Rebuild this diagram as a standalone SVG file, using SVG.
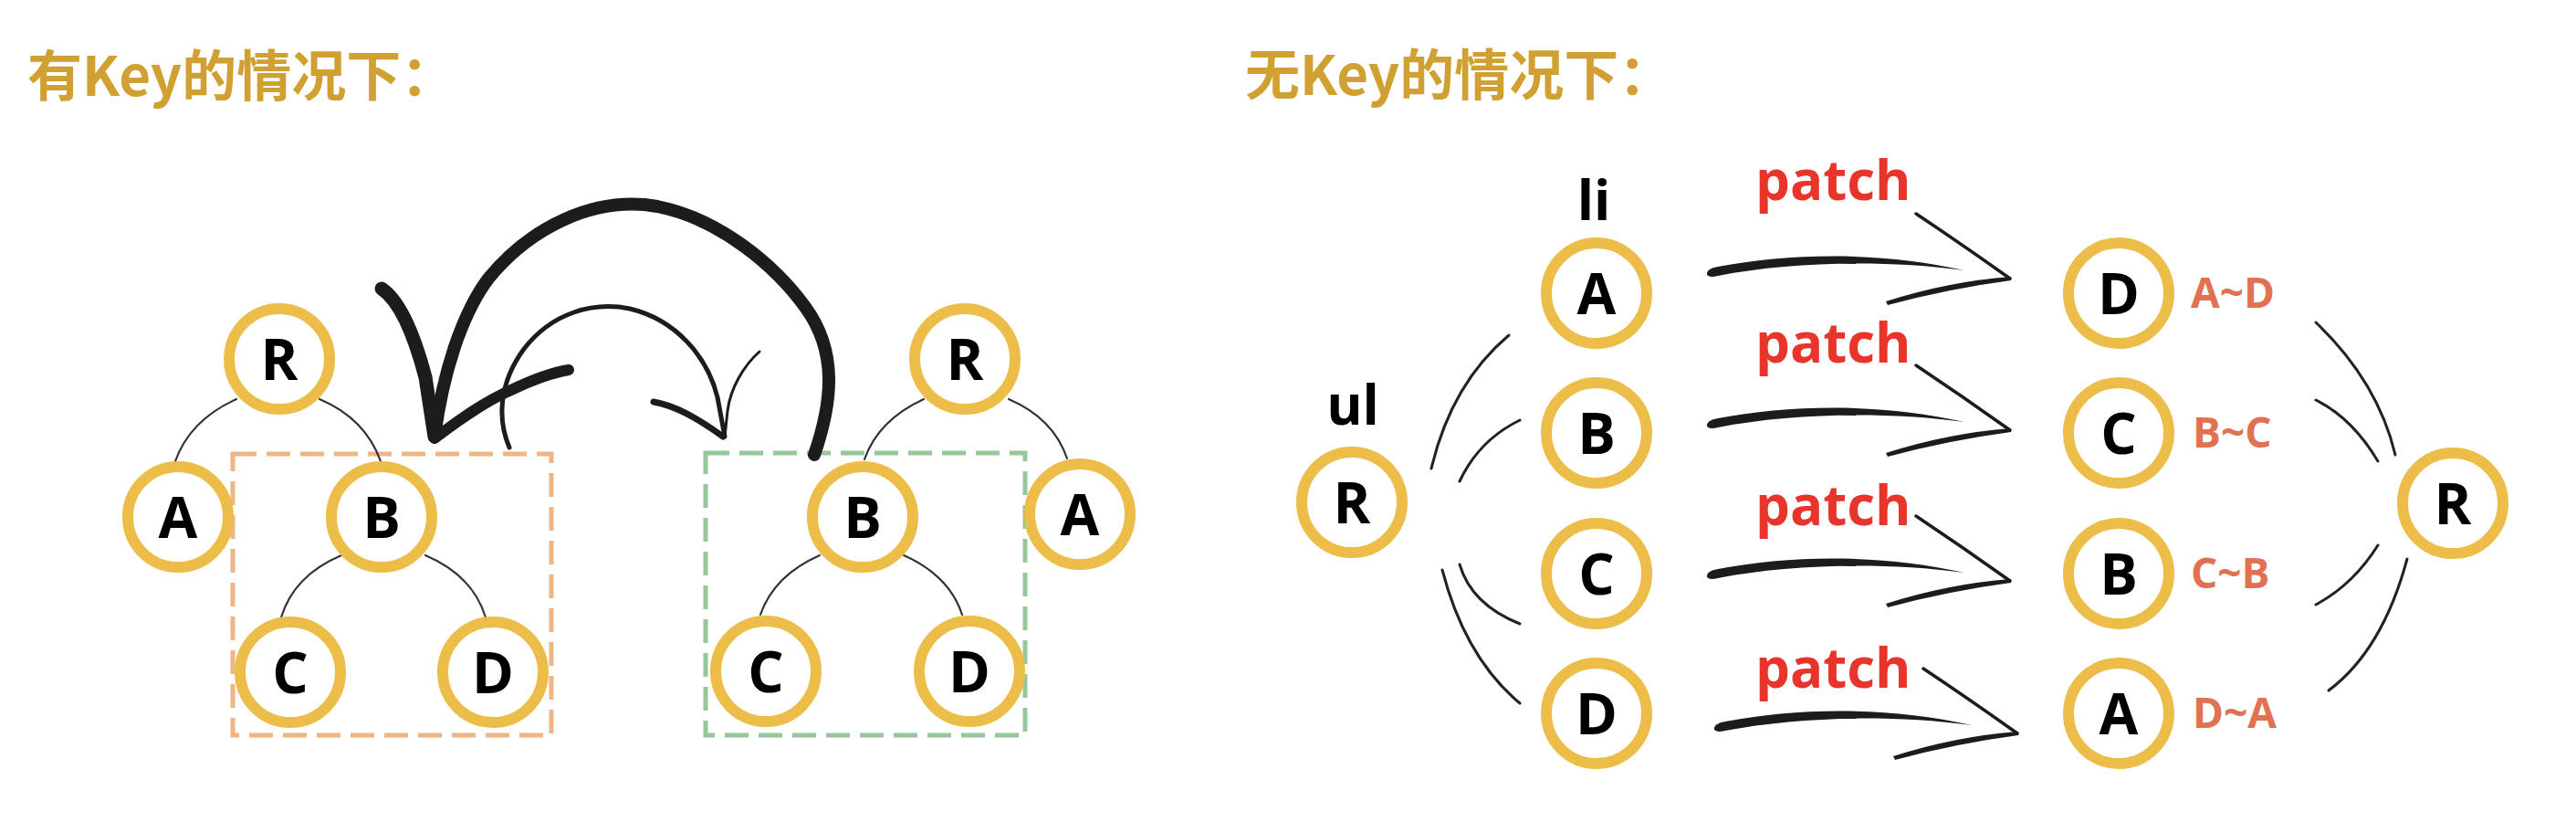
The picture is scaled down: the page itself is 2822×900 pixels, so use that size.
<svg xmlns="http://www.w3.org/2000/svg" xmlns:xlink="http://www.w3.org/1999/xlink" width="2822" height="900" viewBox="0 0 2822 900">
<style>
.title{font-family:"Noto Sans CJK SC","Noto Sans",sans-serif;font-weight:700;font-size:60px;fill:#D1A033}
.ring{fill:#fff;stroke:#ECBD48;stroke-width:12}
.lt{font-family:"Open Sans","Liberation Sans",sans-serif;font-weight:700;font-size:62px;fill:#000;text-anchor:middle}
.tag{font-family:"Open Sans","Liberation Sans",sans-serif;font-weight:700;font-size:60px;fill:#000;text-anchor:middle}
.patch{font-family:"Open Sans","Liberation Sans",sans-serif;font-weight:700;font-size:60px;fill:#E8342A}
.rng{font-family:"Open Sans","Liberation Sans",sans-serif;font-weight:700;font-size:46px;fill:#E07251}
.edge{fill:none;stroke:#333;stroke-width:2.2;stroke-linecap:round}
.fan{fill:none;stroke:#222;stroke-width:3;stroke-linecap:round}
.brush{fill:none;stroke:#1c1c1c;stroke-linecap:round;stroke-linejoin:round}
.ink{fill:#1c1c1c}
.box{fill:none;stroke-width:5;stroke-dasharray:26 11}
</style>
<defs>
<g id="pa">
<path class="ink" d="M1870,299 C1871,295 1876,293 1882,292 C1960,277 2060,275 2152,296 C2060,284 1960,287 1882,302 C1875,304 1869,303 1870,299 Z"/>
<path class="brush" stroke-width="3.5" d="M2099,234 Q2150,268 2202,305"/>
<path class="ink" d="M2203,303 Q2135,308 2066,330 L2068,334 Q2135,316 2203,307 Z"/>
</g>
</defs>
<rect width="2822" height="900" fill="#fff"/>

<text class="title" x="30" y="105">有Key的情况下：</text>
<text class="title" x="1364" y="104">无Key的情况下：</text>

<g id="boxes">
<rect class="box" x="255" y="497" width="349" height="308" stroke="#EFB585"/>
<rect class="box" x="773" y="496" width="350" height="309" stroke="#96C79A"/>
</g>

<g id="connectors">
<path class="edge" d="M259,437 Q208,460 192,505"/>
<path class="edge" d="M350,437 Q400,458 417,505"/>
<path class="edge" d="M374,608 Q322,630 308,676"/>
<path class="edge" d="M466,608 Q518,630 532,676"/>
<path class="edge" d="M1012,437 Q962,460 947,503"/>
<path class="edge" d="M1105,437 Q1154,458 1169,502"/>
<path class="edge" d="M898,608 Q848,630 833,673"/>
<path class="edge" d="M990,608 Q1040,630 1054,673"/>

<path class="fan" d="M1568,513 Q1590,420 1653,367"/>
<path class="fan" d="M1599,527 Q1620,482 1665,460"/>
<path class="fan" d="M1599,618 Q1612,662 1665,683"/>
<path class="fan" d="M1580,624 Q1605,720 1665,770"/>

<path class="fan" d="M2537,353 Q2605,418 2624,498"/>
<path class="fan" d="M2537,438 Q2577,458 2605,505"/>
<path class="fan" d="M2605,597 Q2578,640 2537,662"/>
<path class="fan" d="M2637,612 Q2610,712 2551,756"/>

<g id="big-arrow">
<path class="brush" stroke-width="14" d="M892,498 C912,440 918,385 882,336 C850,292 790,240 720,226 C650,214 580,250 535,305 C505,345 485,410 476,478"/>
<path class="brush" stroke-width="15" d="M418,316 C436,328 452,360 466,413 L476,478"/>
<path class="brush" stroke-width="12" d="M476,480 C500,462 530,440 560,427 C585,415 605,408 623,405"/>
</g>
<g id="small-arrow">
<path class="brush" stroke-width="5" d="M558,490 C545,460 546,420 574,382 C605,342 650,330 690,338 C740,350 775,390 786,435 L794,478"/>
<path class="brush" stroke-width="7" d="M716,440 C738,444 760,455 792,478"/>
<path class="brush" stroke-width="3" d="M832,385 C815,400 800,425 797,450 L794,478"/>
</g>

<use xlink:href="#pa"/>
<use xlink:href="#pa" transform="translate(0,166)"/>
<use xlink:href="#pa" transform="translate(0,331)"/>
<use xlink:href="#pa" transform="translate(8,498)"/>
</g>

<g id="k-R"><circle class="ring" cx="306" cy="393" r="55"/><text class="lt" x="306" y="416">R</text></g>
<g id="k-A"><circle class="ring" cx="195" cy="566" r="55"/><text class="lt" x="195" y="589">A</text></g>
<g id="k-B"><circle class="ring" cx="418" cy="566" r="55"/><text class="lt" x="418" y="589">B</text></g>
<g id="k-C"><circle class="ring" cx="318" cy="736" r="55"/><text class="lt" x="318" y="759">C</text></g>
<g id="k-D"><circle class="ring" cx="540" cy="736" r="55"/><text class="lt" x="540" y="759">D</text></g>

<g id="k2-R"><circle class="ring" cx="1057" cy="393" r="55"/><text class="lt" x="1057" y="416">R</text></g>
<g id="k2-B"><circle class="ring" cx="945" cy="566" r="55"/><text class="lt" x="945" y="589">B</text></g>
<g id="k2-A"><circle class="ring" cx="1183" cy="563" r="55"/><text class="lt" x="1183" y="586">A</text></g>
<g id="k2-C"><circle class="ring" cx="839" cy="735" r="55"/><text class="lt" x="839" y="758">C</text></g>
<g id="k2-D"><circle class="ring" cx="1062" cy="735" r="55"/><text class="lt" x="1062" y="758">D</text></g>

<g id="ul-R"><text class="tag" x="1482" y="465">ul</text><circle class="ring" cx="1481" cy="550" r="55"/><text class="lt" x="1481" y="573">R</text></g>
<g id="li-A"><text class="tag" x="1746" y="241">li</text><circle class="ring" cx="1749" cy="321" r="55"/><text class="lt" x="1749" y="344">A</text></g>
<g id="li-B"><circle class="ring" cx="1749" cy="474" r="55"/><text class="lt" x="1749" y="497">B</text></g>
<g id="li-C"><circle class="ring" cx="1749" cy="628" r="55"/><text class="lt" x="1749" y="651">C</text></g>
<g id="li-D"><circle class="ring" cx="1749" cy="781" r="55"/><text class="lt" x="1749" y="804">D</text></g>

<g id="patch-labels">
<text class="patch" x="1923" y="219">patch</text>
<text class="patch" x="1923" y="397">patch</text>
<text class="patch" x="1923" y="575">patch</text>
<text class="patch" x="1923" y="753">patch</text>
</g>

<g id="n-D"><circle class="ring" cx="2321" cy="321" r="55"/><text class="lt" x="2321" y="344">D</text><text class="rng" x="2400" y="337">A~D</text></g>
<g id="n-C"><circle class="ring" cx="2321" cy="474" r="55"/><text class="lt" x="2321" y="497">C</text><text class="rng" x="2402" y="490">B~C</text></g>
<g id="n-B"><circle class="ring" cx="2321" cy="628" r="55"/><text class="lt" x="2321" y="651">B</text><text class="rng" x="2400" y="644">C~B</text></g>
<g id="n-A"><circle class="ring" cx="2321" cy="781" r="55"/><text class="lt" x="2321" y="804">A</text><text class="rng" x="2402" y="797">D~A</text></g>
<g id="n-R"><circle class="ring" cx="2687" cy="551" r="55"/><text class="lt" x="2687" y="574">R</text></g>
</svg>
